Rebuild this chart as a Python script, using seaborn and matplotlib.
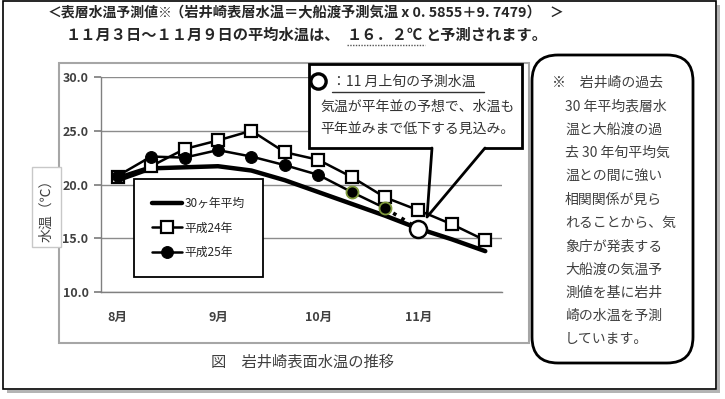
import numpy as np
import pandas as pd
import seaborn as sns
import matplotlib.pyplot as plt
from matplotlib.patches import Rectangle, FancyBboxPatch
from matplotlib.lines import Line2D

# data (旬 = 10-day periods)
periods = ["8月上旬", "8月中旬", "8月下旬", "9月上旬", "9月中旬", "9月下旬",
           "10月上旬", "10月中旬", "10月下旬", "11月上旬", "11月中旬", "11月下旬"]
month_labels = ["8月", "9月", "10月", "11月"]
avg_30y = [20.4, 21.5, 21.6, 21.7, 21.3, 20.4, 19.3, 18.2, 17.1, 15.9, 14.9, 13.8]
h24 = [20.7, 21.7, 23.3, 24.1, 25.0, 23.0, 22.3, 20.7, 18.8, 17.6, 16.3, 14.8]
h25 = [20.8, 22.6, 22.5, 23.2, 22.6, 21.8, 20.9, 19.3, 17.8]
pred_period = "11月上旬"
pred_value = 15.9
yticks = [10.0, 15.0, 20.0, 25.0, 30.0]

note_lines = ["※　岩井崎の過去", "30 年平均表層水", "温と大船渡の過", "去 30 年旬平均気",
              "温との間に強い", "相関関係が見ら", "れることから、気", "象庁が発表する",
              "大船渡の気温予", "測値を基に岩井", "崎の水温を予測", "しています。"]

sns.set_theme(style="white")
plt.rcParams["font.family"] = ["Noto Sans CJK JP", "DejaVu Sans"]

df = pd.DataFrame({"x": range(len(periods)), "旬": periods,
                   "30ヶ年平均": avg_30y, "平成24年": h24})
df["平成25年"] = h25 + [np.nan] * (len(periods) - len(h25))
pred_x = periods.index(pred_period)

W, H = 725, 399
fig = plt.figure(figsize=(W / 100, H / 100), dpi=100)
fig.patch.set_facecolor("white")
ax = fig.add_axes([101 / W, 1 - 292 / H, 401 / W, 215 / H])

sns.lineplot(data=df, x="x", y="30ヶ年平均", ax=ax, color="black", lw=3.2,
             label="30ヶ年平均", zorder=3)
sns.lineplot(data=df, x="x", y="平成24年", ax=ax, color="black", lw=1.8,
             marker="s", markersize=9, markerfacecolor="white",
             markeredgecolor="black", markeredgewidth=1.6, label="平成24年", zorder=4)
sns.lineplot(data=df.dropna(), x="x", y="平成25年", ax=ax, color="black", lw=1.8,
             marker="o", markersize=8.5, markerfacecolor="black",
             markeredgecolor="black", label="平成25年", zorder=4)
# last two 平成25年 points have a greenish outline
sns.scatterplot(data=df.dropna().iloc[-2:], x="x", y="平成25年", ax=ax, s=75,
                color="black", edgecolor="#7f9a3c", linewidth=1.3, legend=False, zorder=5)
# dotted link to the forecast point
sns.lineplot(x=[pred_x - 1, pred_x], y=[h25[-1], pred_value], ax=ax, color="black",
             lw=2.6, ls=":", zorder=3)
sns.scatterplot(x=[pred_x], y=[pred_value], ax=ax, s=150, color="white",
                edgecolor="black", linewidth=1.8, legend=False, zorder=6)

ax.set_xlim(-0.5, len(periods) - 0.5)
ax.set_ylim(yticks[0], yticks[-1])
ax.set_yticks(yticks)
ax.set_yticklabels([f"{v:.1f}" for v in yticks], fontsize=9, fontweight="bold", color="#404040")
ax.set_xticks([periods.index(m + "上旬") for m in month_labels])
ax.set_xticklabels(month_labels, fontsize=9, fontweight="bold", color="#404040")
ax.set_xticks(np.arange(-0.5, len(periods)), minor=True)
ax.tick_params(axis="x", which="major", length=0, pad=14)
ax.tick_params(axis="x", which="minor", length=5, color="#808080", direction="out")
ax.tick_params(axis="y", length=5, color="#808080", direction="out", pad=4, left=True)
ax.set_xlabel("")
ax.set_ylabel("")
ax.grid(axis="y", color="#8c8c8c", lw=1)
ax.set_axisbelow(True)
for side in ["top", "right"]:
    ax.spines[side].set_visible(False)
for side in ["left", "bottom"]:
    ax.spines[side].set_color("#808080")
    ax.spines[side].set_linewidth(1)

leg = ax.legend(loc="upper left", bbox_to_anchor=(134 / W, 1 - 179 / H),
                bbox_transform=fig.transFigure, fontsize=8.5, frameon=True,
                fancybox=False, framealpha=1, edgecolor="black", borderpad=1.5,
                labelspacing=1.0, handlelength=2.6, handletextpad=0.2, borderaxespad=0)
leg.get_frame().set_linewidth(1.3)

# overlay in pixel coordinates for the annotation boxes and texts
ov = fig.add_axes([0, 0, 1, 1], zorder=10)
ov.set_xlim(0, W)
ov.set_ylim(H, 0)
ov.axis("off")
ov.patch.set_visible(False)

# outer frame with shadow
ov.add_patch(Rectangle((717, 5), 3, 388, fc="#b4b4b4", ec="none", zorder=0))
ov.add_patch(Rectangle((7, 390), 713, 3, fc="#b4b4b4", ec="none", zorder=0))
ov.add_patch(Rectangle((3, 1), 713, 388, fc="none", ec="black", lw=1.2, zorder=1))

# chart area border
ov.add_patch(Rectangle((59, 63), 470, 280, fc="none", ec="#a6a6a6", lw=1.5, zorder=2))
# y label box
ov.add_patch(Rectangle((32, 167), 29, 80, fc="white", ec="#c8c8c8", lw=1, zorder=3))
ov.text(46.5, 207, "水温（℃）", rotation=90, ha="center", va="center",
        fontsize=10, color="#404040", zorder=4)

# headings
ov.text(48, 13, "＜表層水温予測値※", ha="left", va="center", fontsize=10,
        fontweight="bold", zorder=4)
ov.text(170, 13, "（岩井崎表層水温＝大船渡予測気温 x 0. 5855＋9. 7479）", ha="left",
        va="center", fontsize=10.3, fontweight="bold", zorder=4)
ov.text(549, 13, "＞", ha="left", va="center", fontsize=10, fontweight="bold", zorder=4)
ov.text(66, 35, "１１月３日～１１月９日の平均水温は、", ha="left", va="center",
        fontsize=11, fontweight="bold", zorder=4)
ov.text(347, 35, "１６．２℃", ha="left", va="center", fontsize=11,
        fontweight="bold", zorder=4)
ov.text(425, 35, "と予測されます。", ha="left", va="center", fontsize=11,
        fontweight="bold", zorder=4)
ov.add_line(Line2D([347, 425], [45, 45], color="#555555", lw=1, ls=(0, (1, 1)), zorder=4))

# callout
ov.add_patch(Rectangle((309, 64), 213, 84, fc="white", ec="black", lw=2, zorder=5))
ov.add_patch(Rectangle((433, 146.5), 51, 3, fc="white", ec="none", zorder=6))
ov.add_line(Line2D([432, 427, 485], [148, 217, 148], color="black", lw=2, zorder=6))
ov.add_line(Line2D([318], [80.5], marker="o", markersize=11, mfc="white", mec="black",
                   mew=2.4, zorder=7))
ov.text(332, 82, "：11 月上旬の予測水温", ha="left", va="center", fontsize=10,
        color="#333333", zorder=7)
ov.add_line(Line2D([332, 484], [92, 92], color="#333333", lw=1, zorder=7))
ov.text(320, 107, "気温が平年並の予想で、水温も", ha="left", va="center",
        fontsize=10, color="#333333", zorder=7)
ov.text(320, 129, "平年並みまで低下する見込み。", ha="left", va="center",
        fontsize=10, color="#333333", zorder=7)

# rounded note box
ov.add_patch(FancyBboxPatch((532, 55), 161, 308, boxstyle="round,pad=0,rounding_size=26",
                            fc="white", ec="black", lw=2, zorder=5))
for i, line in enumerate(note_lines):
    x0 = 552 if i == 0 else 565
    ov.text(x0, 83 + i * 23.3, line, ha="left", va="center", fontsize=10,
            color="#404040", zorder=6)

ov.text(303, 362, "図　岩井崎表面水温の推移", ha="center", va="center", fontsize=11,
        color="#404040", zorder=4)

fig.savefig("out.png", dpi=100)
